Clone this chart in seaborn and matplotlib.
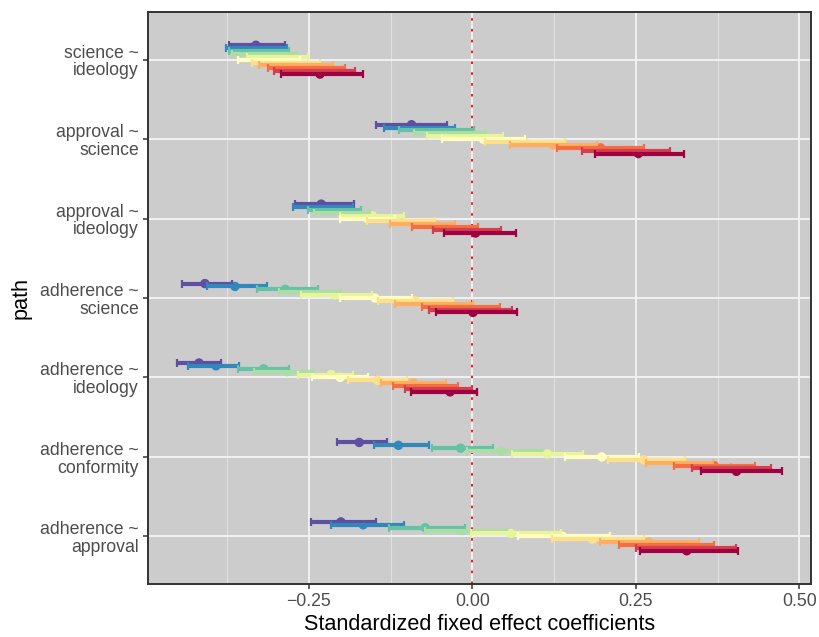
import numpy as np
import pandas as pd
import matplotlib
matplotlib.use("Agg")
import matplotlib.pyplot as plt
import seaborn as sns
from matplotlib.ticker import MultipleLocator, FixedLocator, FuncFormatter

# ---------------- data ----------------
paths = ["science ~\nideology", "approval ~\nscience", "approval ~\nideology",
         "adherence ~\nscience", "adherence ~\nideology", "adherence ~\nconformity",
         "adherence ~\napproval"]
models = [f"m{i}" for i in range(1, 12)]

est_sci_ideo = [-0.331, -0.330, -0.326, -0.318, -0.298, -0.310, -0.285, -0.270, -0.253, -0.241, -0.233]
lo_sci_ideo = [-0.372, -0.377, -0.372, -0.368, -0.345, -0.358, -0.337, -0.326, -0.312, -0.303, -0.292]
hi_sci_ideo = [-0.286, -0.283, -0.280, -0.268, -0.251, -0.263, -0.233, -0.213, -0.194, -0.179, -0.167]

est_app_sci = [-0.093, -0.080, -0.055, -0.034, -0.011, 0.017, 0.080, 0.124, 0.196, 0.235, 0.254]
lo_app_sci = [-0.147, -0.135, -0.112, -0.089, -0.069, -0.047, 0.020, 0.057, 0.130, 0.167, 0.187]
hi_app_sci = [-0.038, -0.026, 0.002, 0.021, 0.047, 0.081, 0.141, 0.191, 0.262, 0.303, 0.323]

est_app_ideo = [-0.231, -0.228, -0.210, -0.199, -0.153, -0.160, -0.109, -0.076, -0.042, -0.008, 0.005]
lo_app_ideo = [-0.271, -0.274, -0.251, -0.242, -0.202, -0.202, -0.161, -0.126, -0.092, -0.060, -0.044]
hi_app_ideo = [-0.181, -0.182, -0.170, -0.156, -0.104, -0.118, -0.057, -0.026, 0.008, 0.044, 0.067]

est_adh_sci = [-0.409, -0.363, -0.286, -0.250, -0.210, -0.149, -0.087, -0.059, -0.017, -0.003, 0.001]
lo_adh_sci = [-0.444, -0.406, -0.329, -0.296, -0.262, -0.202, -0.144, -0.119, -0.077, -0.067, -0.055]
hi_adh_sci = [-0.368, -0.314, -0.236, -0.201, -0.153, -0.093, -0.029, 0.001, 0.043, 0.061, 0.069]

est_adh_ideo = [-0.418, -0.392, -0.319, -0.283, -0.216, -0.202, -0.145, -0.090, -0.072, -0.052, -0.034]
lo_adh_ideo = [-0.452, -0.435, -0.358, -0.334, -0.266, -0.245, -0.190, -0.139, -0.121, -0.103, -0.094]
hi_adh_ideo = [-0.384, -0.357, -0.280, -0.243, -0.182, -0.160, -0.100, -0.041, -0.022, 0.000, 0.007]

est_adh_conf = [-0.173, -0.113, -0.018, 0.044, 0.115, 0.198, 0.262, 0.316, 0.370, 0.396, 0.404]
lo_adh_conf = [-0.207, -0.150, -0.061, -0.008, 0.061, 0.142, 0.208, 0.265, 0.308, 0.336, 0.350]
hi_adh_conf = [-0.130, -0.066, 0.031, 0.107, 0.170, 0.255, 0.326, 0.368, 0.432, 0.457, 0.474]

est_adh_app = [-0.201, -0.167, -0.072, -0.015, 0.059, 0.138, 0.184, 0.270, 0.296, 0.326, 0.328]
lo_adh_app = [-0.247, -0.216, -0.127, -0.072, -0.002, 0.070, 0.122, 0.196, 0.224, 0.250, 0.257]
hi_adh_app = [-0.147, -0.105, -0.011, 0.053, 0.135, 0.211, 0.262, 0.346, 0.369, 0.403, 0.406]

x_ticks = [-0.25, 0.0, 0.25, 0.50]

# ---------------- table ----------------
series = [(est_sci_ideo, lo_sci_ideo, hi_sci_ideo), (est_app_sci, lo_app_sci, hi_app_sci),
          (est_app_ideo, lo_app_ideo, hi_app_ideo), (est_adh_sci, lo_adh_sci, hi_adh_sci),
          (est_adh_ideo, lo_adh_ideo, hi_adh_ideo), (est_adh_conf, lo_adh_conf, hi_adh_conf),
          (est_adh_app, lo_adh_app, hi_adh_app)]
rows = []
for pi, (p, (e, l, h)) in enumerate(zip(paths, series)):
    for mi, m in enumerate(models):
        rows.append(dict(path=p, pidx=pi, model=m, midx=mi, est=e[mi], lo=l[mi], hi=h[mi]))
df = pd.DataFrame(rows)
dodge_width = 0.40
n = len(models)
df["y"] = df["pidx"] + (df["midx"] - (n - 1) / 2) * dodge_width / n

palette = ["#5E4FA2", "#3288BD", "#66C2A5", "#ABDDA4", "#E6F598", "#FFFFBF",
           "#FEE08B", "#FDAE61", "#F46D43", "#D53E4F", "#9E0142"]

# ---------------- style ----------------
sns.set_theme(style="darkgrid")
plt.rcParams["font.family"] = ["Liberation Sans", "DejaVu Sans"]

fig = plt.figure(figsize=(8.19, 6.37), dpi=100)
ax = fig.add_axes([148 / 819, 1 - 584 / 637, (811 - 148) / 819, (584 - 12) / 637])
ax.set_facecolor("#CCCCCC")

sns.scatterplot(data=df, x="est", y="y", hue="model", palette=palette, s=46,
                linewidth=0, legend=False, ax=ax, zorder=3)

for mi, m in enumerate(models):
    d = df[df["model"] == m]
    ax.errorbar(d["est"], d["y"], xerr=[d["est"] - d["lo"], d["hi"] - d["est"]],
                fmt="none", ecolor=palette[mi], elinewidth=3.0, capsize=2.6,
                capthick=1.6, zorder=4)

ax.axvline(0, color="red", lw=1.3, ls=(0, (1.4, 4.6)), zorder=2.5)

ax.set_xlim(-0.496, 0.518)
ax.set_ylim(len(paths) - 1 + 0.6, -0.6)
ax.xaxis.set_major_locator(FixedLocator(x_ticks))
ax.xaxis.set_minor_locator(MultipleLocator(0.125))
ax.xaxis.set_major_formatter(FuncFormatter(lambda v, _: f"{v:.2f}".replace("-", "\u2212")))
ax.set_yticks(range(len(paths)))
ax.set_yticklabels(paths, linespacing=1.05)

ax.grid(which="major", color="#F2F2F2", lw=1.4, zorder=0)
ax.grid(which="minor", axis="x", color="#E0E0E0", lw=0.8, zorder=0)
ax.set_axisbelow(True)

for s in ax.spines.values():
    s.set_visible(True)
    s.set_color("#333333")
    s.set_linewidth(1.4)

ax.tick_params(axis="both", which="major", length=3.6, width=1.1, color="#333333",
               labelcolor="#4D4D4D", labelsize=12.7, pad=3, left=True, bottom=True)
ax.tick_params(axis="x", which="minor", length=0)

ax.set_xlabel("Standardized fixed effect coefficients", fontsize=15.6, color="black", labelpad=3)
ax.set_ylabel("path", fontsize=15.6, color="black", labelpad=6)

fig.savefig("out.png", dpi=100, facecolor="white")
